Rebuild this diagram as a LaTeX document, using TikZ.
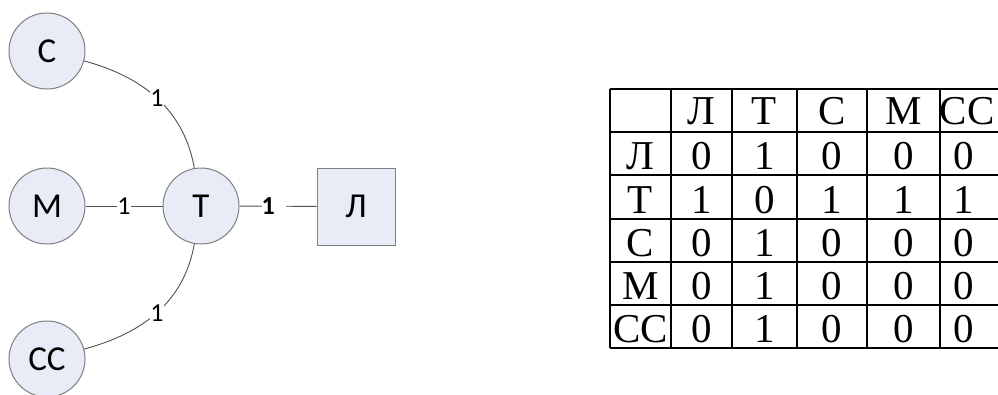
\documentclass[tikz,border=0pt]{standalone}
\usepackage{fontspec}
\setmainfont{Liberation Serif}
\newfontfamily\graphfont{Carlito}
\usepackage{tikz}
\usetikzlibrary{positioning,calc}
\definecolor{gvFill}{HTML}{E8ECF7}
\definecolor{gvDraw}{HTML}{7F7F7F}
\definecolor{gvEdge}{HTML}{505050}
\tikzset{
  vertex/.style={
    draw=gvDraw, fill=gvFill, circle, minimum size=76pt, inner sep=0pt,
    line width=1pt, font=\graphfont\fontsize{35}{38}\selectfont
  },
  leafbox/.style={vertex, rectangle, minimum width=78pt, minimum height=77pt},
  edge/.style={draw=gvEdge, line width=0.9pt},
  weight/.style={font=\graphfont\fontsize{26}{28}\selectfont, fill=white, inner sep=0.5pt},
  cell/.style={font=\fontsize{41}{44}\selectfont, inner sep=0pt, anchor=base},
  grid/.style={line width=2.3pt, black}
}
\begin{document}
\begin{tikzpicture}[x=1pt, y=1pt]
  \useasboundingbox (0,0) rectangle (998,-394);
  % graph
  \node[vertex] (t) at (201,-206) {Т};
  \node[vertex] (c) at (47,-51) {С};
  \node[vertex] (m) at (47,-206) {М};
  \node[vertex] (cc) at (47,-359) {СС};
  \node[leafbox] (l) at (356,-206.5) {Л};
  \draw[edge] (c) to[out=-15, in=100] node[weight, pos=0.5] {1} (t);
  \draw[edge] (cc) to[out=15, in=-100] node[weight, pos=0.5] {1} (t);
  \draw[edge] (m) -- node[weight, pos=0.5] {1} (t);
  \draw[edge] (t) -- node[weight, pos=0.28, anchor=west, inner xsep=0pt, text width=24pt, font=\graphfont\bfseries\fontsize{26}{28}\selectfont] {1} (l);
  % adjacency table
  \foreach \y in {89,132,175,219,262,305,348}
    \draw[grid] (610,-\y) -- (998,-\y);
  \foreach \x in {610,671,732,797,867,940}
    \draw[grid] (\x,-89) -- (\x,-348);
  \foreach \name [count=\i] in {Л,Т,С,М,СС} {
    \pgfmathsetmacro{\cx}{{640.5,701.5,764.5,832,903.5,967}[\i]}
    \pgfmathsetmacro{\ry}{{110.5,153.5,197,240.5,283.5,326.5}[\i]}
    \node[cell] (col\i) at (\cx,-124) {\name};
    \node[cell] (row\i) at (640.5,-\ry-16) {\name};
  }
  \foreach \vals [count=\r] in {{0,1,0,0,0},{1,0,1,1,1},{0,1,0,0,0},{0,1,0,0,0},{0,1,0,0,0}} {
    \pgfmathsetmacro{\ry}{{110.5,153.5,197,240.5,283.5,326.5}[\r]}
    \foreach \v [count=\k] in \vals {
      \pgfmathsetmacro{\cx}{{640.5,701.5,764.5,832,903.5,964}[\k]}
      \node[cell] (v\r\k) at (\cx,-\ry-16) {\v};
    }
  }
\end{tikzpicture}
\end{document}
